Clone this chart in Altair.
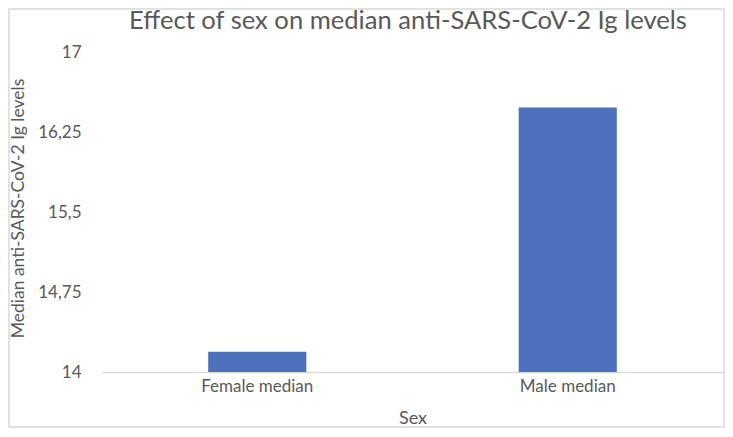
import altair as alt
import pandas as pd

title_text = "Effect of sex on median anti-SARS-CoV-2 Ig levels"
categories = ["Female median", "Male median"]
values = [14.19, 16.48]
y_ticks = [14, 14.75, 15.5, 16.25, 17]

df = pd.DataFrame({"Sex": categories, "Median": values})

FONT = "Lato"
GREY = "#595959"

bars = alt.Chart(df).mark_bar(color="#4E71BE", clip=True).encode(
    x=alt.X(
        "Sex:N",
        sort=categories,
        title="Sex",
        scale=alt.Scale(paddingInner=0.684, paddingOuter=0.342),
        axis=alt.Axis(
            labelAngle=0,
            labelFont=FONT,
            labelFontSize=17,
            labelColor=GREY,
            labelPadding=6,
            ticks=False,
            domainColor="#d9d9d9",
            domainWidth=1.5,
            titleFont=FONT,
            titleFontSize=18,
            titleFontWeight="normal",
            titleColor=GREY,
            titleY=46,
            titleBaseline="middle",
        ),
    ),
    y=alt.Y(
        "Median:Q",
        title="Median anti-SARS-CoV-2 Ig levels",
        scale=alt.Scale(domain=[14, 17], nice=False, zero=False),
        axis=alt.Axis(
            values=y_ticks,
            labelExpr="replace(datum.value + '', '.', ',')",
            labelFont=FONT,
            labelFontSize=17,
            labelColor=GREY,
            labelPadding=21,
            ticks=False,
            domain=False,
            grid=False,
            titleFont=FONT,
            titleFontSize=17.5,
            titleFontWeight="normal",
            titleColor=GREY,
            titleX=-84,
            titleY=156,
            titleAngle=270,
            titleAlign="center",
            titleBaseline="middle",
        ),
    ),
)

frame = alt.Chart(pd.DataFrame({"f": [0]})).mark_rect(
    fill=None, stroke="#d9d9d9", strokeWidth=1.5
).encode(
    x=alt.value(-93),
    x2=alt.value(622),
    y=alt.value(-43),
    y2=alt.value(375),
)

title = alt.Chart(pd.DataFrame({"t": [title_text]})).mark_text(
    font=FONT, fontSize=25.6, color=GREY, align="center", baseline="alphabetic"
).encode(
    text="t:N",
    x=alt.value(306),
    y=alt.value(-23),
)

chart = alt.layer(frame, bars, title).properties(
    width=621,
    height=320,
    autosize=alt.AutoSizeParams(type="none"),
    padding={"left": 94, "top": 44, "right": 2, "bottom": 56},
).configure_view(stroke=None)

chart.save("out.html", embed_options={"renderer": "svg", "actions": False})
